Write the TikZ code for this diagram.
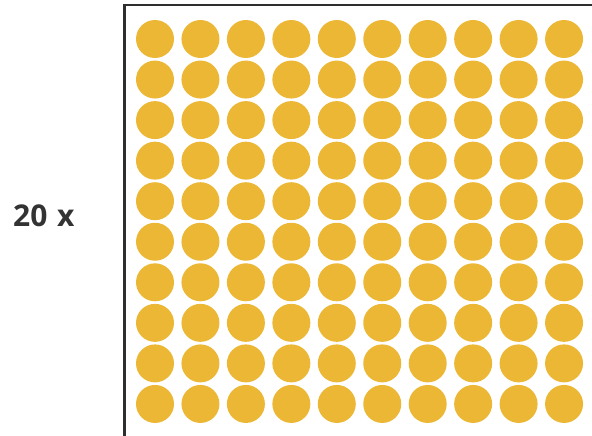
\documentclass[tikz,border=0pt]{standalone}
\usepackage{fontspec}
\setmainfont{Open Sans}
\definecolor{dot}{HTML}{EBB735}
\definecolor{ink}{HTML}{333333}
\begin{document}
\begin{tikzpicture}[x=1pt,y=-1pt,
  dotstyle/.style={fill=dot,draw=none},
  framestyle/.style={draw=ink!90!black,line width=2.4pt}]
\useasboundingbox (0,0) rectangle (592,436);
\draw[framestyle] (124.5,436) -- (124.5,5) -- (592,5);
\foreach \i in {0,...,9}{
  \foreach \j in {0,...,9}{
    \fill[dotstyle] (155+45.45*\i,39+40.55*\j) circle (19);
  }
}
\node[font=\bfseries\fontsize{30}{34}\selectfont,text=ink,anchor=base west,inner sep=0] (lbl) at (13,226) {20\hspace{2pt} x};
\end{tikzpicture}
\end{document}
